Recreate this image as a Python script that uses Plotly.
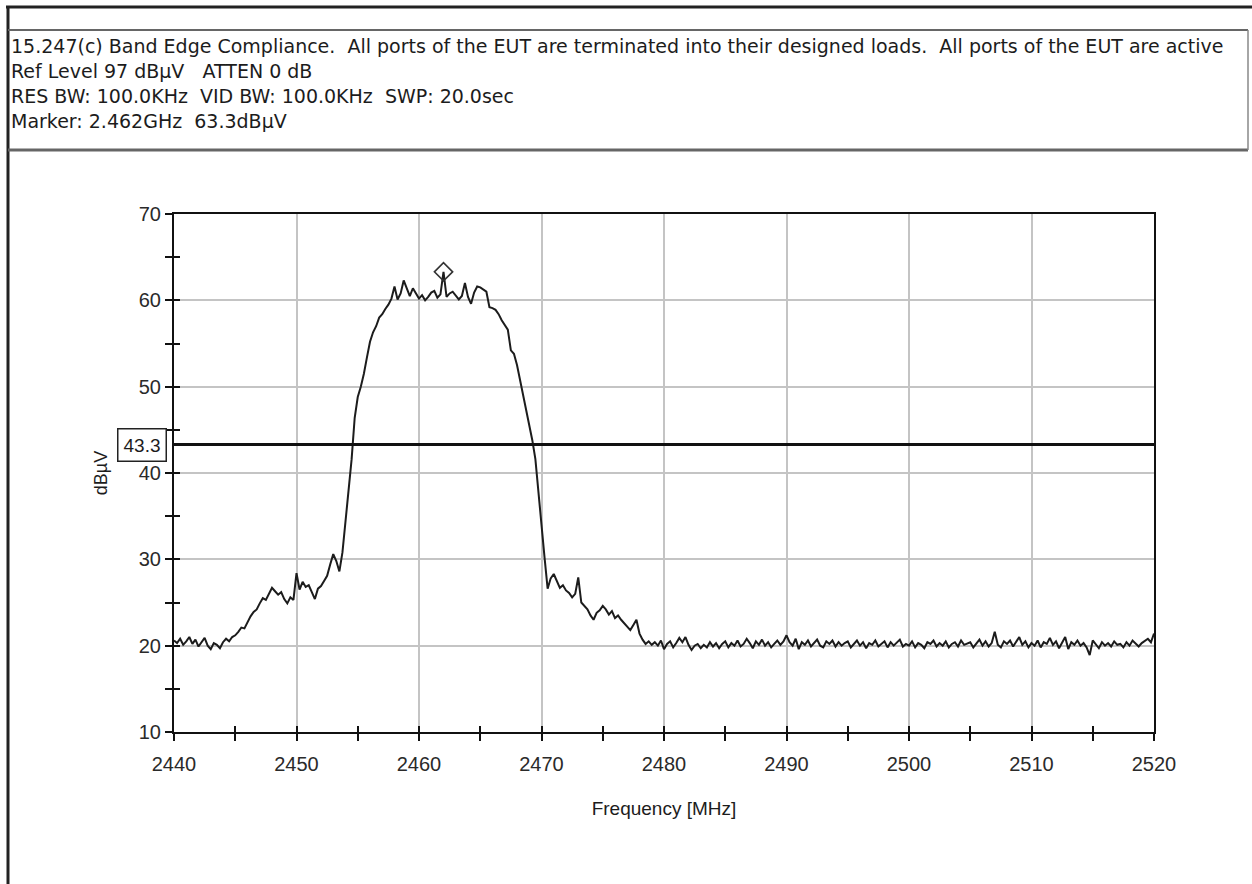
import numpy as np
import plotly.graph_objects as go

# ---- sweep settings -------------------------------------------------------
F_START_MHZ = 2440.0
F_STOP_MHZ = 2520.0
SWEEP_POINTS = 321

# ---- measured trace (dBµV), one row per 5 MHz ------------------------------
level_dbuv = [
    # 2440 - 2444.75
    20.6, 20.3, 20.8, 20.1, 20.5, 21.0, 20.2, 20.7, 19.9, 20.4,
    20.9, 20.0, 19.6, 20.3, 20.1, 19.7, 20.4, 20.8, 20.5, 21.0,
    # 2445 - 2449.75
    21.2, 21.6, 22.1, 22.0, 22.7, 23.4, 23.9, 24.2, 24.9, 25.5,
    25.3, 26.0, 26.7, 26.3, 25.9, 26.2, 25.4, 24.9, 25.6, 25.3,
    # 2450 - 2454.75
    28.4, 26.5, 27.4, 26.8, 27.0, 26.2, 25.4, 26.6, 26.9, 27.5,
    28.1, 29.4, 30.6, 29.8, 28.6, 30.8, 34.2, 37.8, 41.6, 46.4,
    # 2455 - 2459.75
    48.8, 50.0, 51.5, 53.4, 55.2, 56.3, 57.0, 58.0, 58.4, 59.0,
    59.5, 60.2, 61.6, 60.1, 60.8, 62.3, 61.5, 60.5, 61.4, 60.8,
    # 2460 - 2464.75
    60.2, 60.6, 60.0, 60.4, 60.9, 61.1, 60.3, 60.7, 63.3, 60.4,
    60.8, 61.0, 60.6, 60.1, 60.5, 62.0, 60.4, 59.6, 60.9, 61.6,
    # 2465 - 2469.75
    61.5, 61.2, 61.0, 59.2, 59.1, 58.9, 58.4, 57.7, 57.2, 56.6,
    54.2, 53.8, 52.5, 50.8, 49.2, 47.5, 45.6, 43.8, 41.6, 37.5,
    # 2470 - 2474.75
    33.5, 30.2, 26.6, 27.8, 28.3, 27.4, 26.7, 27.0, 26.4, 26.1,
    25.6, 26.0, 27.9, 25.0, 24.6, 24.2, 23.5, 23.0, 23.8, 24.1,
    # 2475 - 2479.75
    24.6, 24.2, 23.6, 24.0, 23.2, 23.5, 23.0, 22.6, 22.2, 21.8,
    22.4, 23.0, 21.4, 20.7, 20.2, 20.5, 20.1, 20.4, 20.0, 20.6,
    # 2480 - 2484.75
    19.6, 20.2, 20.5, 19.8, 20.3, 20.9, 20.4, 21.0, 20.1, 19.5,
    20.0, 20.2, 19.7, 20.1, 19.8, 20.4, 19.9, 20.3, 19.7, 20.2,
    # 2485 - 2489.75
    20.5, 19.8, 20.3, 20.0, 20.6, 19.9, 20.2, 20.8, 20.3, 19.7,
    20.5, 20.1, 20.7, 20.0, 20.4, 19.8, 20.2, 20.6, 20.1, 20.5,
    # 2490 - 2494.75
    21.2, 20.4, 20.0, 20.8, 19.6, 20.4, 20.1, 20.6, 19.9, 20.3,
    20.7, 20.0, 19.8, 20.5, 20.2, 20.6, 19.9, 20.4, 20.0, 20.3,
    # 2495 - 2499.75
    20.5, 19.8, 20.2, 20.6, 20.0, 20.4, 19.7, 20.3, 20.1, 20.6,
    19.9, 20.2, 20.5, 19.8, 20.4, 20.0, 20.3, 20.7, 19.9, 20.2,
    # 2500 - 2504.75
    20.0, 20.5, 19.8, 20.3, 20.1, 19.7, 20.4, 20.2, 20.6, 19.9,
    20.3, 20.0, 20.5, 19.8, 20.2, 20.4, 19.9, 20.6, 20.1, 20.3,
    # 2505 - 2509.75
    20.4, 19.8, 20.2, 20.7, 20.0, 20.5, 19.9, 20.3, 21.6, 20.1,
    19.8, 20.5, 20.2, 20.6, 19.9, 20.4, 21.0, 20.1, 20.5, 19.8,
    # 2510 - 2514.75
    20.3, 20.0, 20.6, 19.8, 20.4, 20.2, 20.9, 20.1, 20.5, 19.7,
    20.3, 21.0, 19.6, 20.4, 20.1, 20.6, 20.0, 20.3, 19.8, 18.9,
    # 2515 - 2519.75
    20.6, 20.2, 19.7, 20.4, 20.0, 20.3, 19.9, 20.5, 20.1, 20.2,
    19.8, 20.4, 20.0, 20.6, 20.2, 19.9, 20.3, 20.5, 20.8, 20.4,
    # 2520
    21.4,
]

LIMIT_DBUV = 43.3
MARKER_FREQ_MHZ = 2462.0
MARKER_LEVEL_DBUV = 63.3

REF_LEVEL_DBUV = 97
ATTEN_DB = 0
RES_BW_KHZ = 100.0
VID_BW_KHZ = 100.0
SWEEP_TIME_S = 20.0

Y_RANGE = [10, 70]
Y_TICKS = [10, 20, 30, 40, 50, 60, 70]
X_TICKS = [2440, 2450, 2460, 2470, 2480, 2490, 2500, 2510, 2520]

freq_mhz = np.linspace(F_START_MHZ, F_STOP_MHZ, SWEEP_POINTS)

# ---- page geometry (pixels) ----------------------------------------------
W, H = 1252, 884
PL, PR, PT, PB = 174, 1154, 214, 732


def px_x(p):
    return (p - PL) / (PR - PL)


def px_y(p):
    return (PB - p) / (PB - PT)


FONT = "Liberation Sans, Arial, sans-serif"
HEAD_FONT = "DejaVu Sans, Verdana, sans-serif"
INK = "#1c1c1c"
TICK = dict(ticklen=7, tickwidth=2, tickcolor="#111111")

fig = go.Figure()

fig.add_trace(go.Scatter(
    x=freq_mhz, y=level_dbuv, mode="lines",
    line=dict(color=INK, width=2), hoverinfo="x+y", showlegend=False,
))

# marker at the peak (drawn on the overlay axes that carry the inner ticks)
fig.add_trace(go.Scatter(
    x=[MARKER_FREQ_MHZ], y=[MARKER_LEVEL_DBUV], mode="markers",
    xaxis="x2", yaxis="y2",
    marker=dict(symbol="diamond-open", size=14, color="#333333",
                line=dict(width=1.6, color="#333333")),
    showlegend=False, hoverinfo="x+y",
))

# limit line
fig.add_shape(type="line", xref="paper", x0=0, x1=1, yref="y",
              y0=LIMIT_DBUV, y1=LIMIT_DBUV, line=dict(color="#111111", width=3))
fig.add_annotation(
    xref="paper", x=0, xshift=-7, xanchor="right", yref="y", y=LIMIT_DBUV,
    text=f"{LIMIT_DBUV:.1f}", showarrow=False,
    font=dict(family=FONT, size=19, color=INK),
    bordercolor="#222222", borderwidth=1.5, borderpad=5, bgcolor="white",
)

# window frame and header box
frame = dict(xref="paper", yref="paper", type="line")
fig.add_shape(**frame, x0=px_x(6), x1=px_x(W), y0=px_y(7), y1=px_y(7),
              line=dict(color="#222222", width=3))
fig.add_shape(**frame, x0=px_x(8), x1=px_x(8), y0=px_y(6), y1=px_y(H),
              line=dict(color="#222222", width=3))
fig.add_shape(**frame, x0=px_x(8), x1=px_x(1248), y0=px_y(30), y1=px_y(30),
              line=dict(color="#666666", width=2))
fig.add_shape(**frame, x0=px_x(8), x1=px_x(1248), y0=px_y(150), y1=px_y(150),
              line=dict(color="#666666", width=3))
fig.add_shape(**frame, x0=px_x(1248), x1=px_x(1248), y0=px_y(30), y1=px_y(150),
              line=dict(color="#888888", width=1.5))

header = [
    "15.247(c) Band Edge Compliance.  All ports of the EUT are terminated into "
    "their designed loads.  All ports of the EUT are active",
    f"Ref Level {REF_LEVEL_DBUV} dBµV   ATTEN {ATTEN_DB} dB",
    f"RES BW: {RES_BW_KHZ:.1f}KHz  VID BW: {VID_BW_KHZ:.1f}KHz  SWP: {SWEEP_TIME_S:.1f}sec",
    f"Marker: {MARKER_FREQ_MHZ / 1000:.3f}GHz  {MARKER_LEVEL_DBUV:.1f}dBµV",
]
for row_y, line in zip([46, 71, 96, 121], header):
    fig.add_annotation(
        xref="paper", x=px_x(9), xanchor="left", yref="paper", y=px_y(row_y),
        yanchor="middle", text=line, showarrow=False, align="left",
        font=dict(family=HEAD_FONT, size=19, color=INK),
    )

axis_common = dict(
    showgrid=True, gridcolor="#c4c4c4", gridwidth=2,
    showline=True, linecolor="#111111", linewidth=2, mirror=True,
    ticks="outside", **TICK,
    tickfont=dict(family=FONT, size=20, color="#2a2a2a"),
    zeroline=False,
)

fig.update_layout(
    width=W, height=H, autosize=False,
    margin=dict(l=PL, r=W - PR, t=PT, b=H - PB),
    paper_bgcolor="white", plot_bgcolor="white",
    xaxis=dict(
        **axis_common, range=[F_START_MHZ, F_STOP_MHZ],
        tickmode="array", tickvals=X_TICKS, ticklabelstandoff=6,
        minor=dict(dtick=5, tick0=F_START_MHZ, ticks="outside", **TICK,
                   showgrid=False),
        title=dict(text="Frequency [MHz]", standoff=28,
                   font=dict(family=FONT, size=19, color=INK)),
    ),
    yaxis=dict(
        **axis_common, range=Y_RANGE, tickmode="array", tickvals=Y_TICKS,
        minor=dict(dtick=5, tick0=10, ticks="outside", **TICK, showgrid=False),
        title=dict(text="dBµV", standoff=26,
                   font=dict(family=FONT, size=18, color=INK)),
    ),
    # inner half of the tick marks, so ticks cross the axis lines
    xaxis2=dict(overlaying="x", matches="x", anchor="y2", side="bottom",
                showgrid=False, showline=False, showticklabels=False,
                ticks="inside", ticklen=6, tickwidth=2, tickcolor="#111111",
                tickmode="array", tickvals=X_TICKS, zeroline=False,
                minor=dict(dtick=5, tick0=F_START_MHZ, ticks="inside",
                           ticklen=6, tickwidth=2, tickcolor="#111111")),
    yaxis2=dict(overlaying="y", matches="y", anchor="x2", side="left",
                showgrid=False, showline=False, showticklabels=False,
                ticks="inside", ticklen=6, tickwidth=2, tickcolor="#111111",
                tickmode="array", tickvals=Y_TICKS, zeroline=False,
                minor=dict(dtick=5, tick0=10, ticks="inside",
                           ticklen=6, tickwidth=2, tickcolor="#111111")),
)

fig.write_html("out.html")
